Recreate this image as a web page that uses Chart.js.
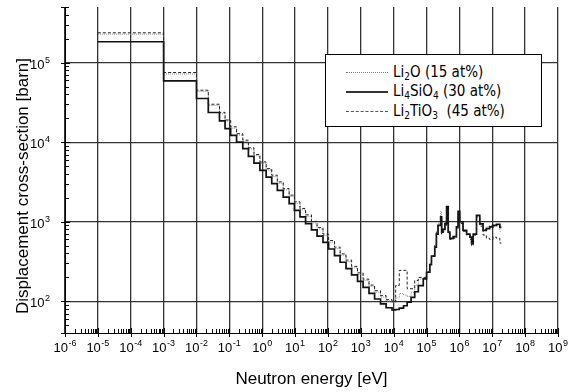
<!DOCTYPE html>
<html>
<head>
<meta charset="utf-8">
<script src="https://cdn.jsdelivr.net/npm/chart.js@4.4.1/dist/chart.umd.min.js"></script>
<style>
  body { margin: 0; background: #fff; }
  #wrap { position: relative; width: 575px; height: 392px; }
  #legend {
    position: absolute; left: 325px; top: 54px; width: 215px; height: 71px;
    border: 1px solid #000; background: #fff; color: #000;
    font-family: 'DejaVu Sans Condensed', 'DejaVu Sans', sans-serif; font-size: 15px;
  }
  .row { position: absolute; left: 0; height: 20px; line-height: 20px; white-space: nowrap; }
  .smp { position: absolute; left: 20px; top: 10px; width: 42px; height: 0; }
  .txt { position: absolute; left: 67px; top: 0; }
  sub { font-size: 10px; vertical-align: -3px; line-height: 0; }
</style>
</head>
<body>
<div id="wrap">
  <canvas id="dpaChart" width="575" height="392"></canvas>
  <div id="legend">
    <div class="row" style="top:7px"><span class="smp" style="border-top:1px dotted #777"></span><span class="txt">Li<sub>2</sub>O (15 at%)</span></div>
    <div class="row" style="top:26px"><span class="smp" style="border-top:2px solid #333"></span><span class="txt">Li<sub>4</sub>SiO<sub>4</sub> (30 at%)</span></div>
    <div class="row" style="top:46px"><span class="smp" style="border-top:1px dashed #555"></span><span class="txt">Li<sub>2</sub>TiO<sub>3</sub>&nbsp; (45 at%)</span></div>
  </div>
</div>
<script>
// group edges, log10 of neutron energy [eV]; last entry closes the last group
const edgeExp = [-5, -3, -2, -1.64, -1.30, -1.13, -0.96, -0.78, -0.59, -0.42,
    -0.25, -0.07, 0.12, 0.29, 0.46, 0.64, 0.82, 0.98, 1.15, 1.32,
    1.50, 1.67, 1.85, 2.02, 2.20, 2.37, 2.55, 2.72, 2.90, 3.07,
    3.25, 3.42, 3.60, 3.77, 3.95, 4.06, 4.17, 4.30, 4.41, 4.53,
    4.64, 4.75, 4.90, 5.00, 5.10, 5.15, 5.25, 5.30, 5.35, 5.43,
    5.46, 5.50, 5.56, 5.61, 5.66, 5.71, 5.81, 5.91, 5.96, 6.01,
    6.11, 6.22, 6.32, 6.37, 6.42, 6.52, 6.62, 6.72, 6.82, 6.92,
    7.02, 7.13, 7.23, 7.28];

const li2o = [228000, 72000, 43500, 29000, 22800, 18300, 15000, 12300, 10200, 8200,
    6750, 5450, 4480, 3700, 3050, 2510, 2080, 1710, 1410, 1170,
    970, 810, 670, 555, 460, 380, 316, 263, 218, 182,
    153, 130, 113, 101, 96, 110, 125, 120, 115, 130,
    160, 190, 195, 235, 300, 370, 520, 760, 950, 1350,
    760, 820, 980, 1500, 720, 610, 640, 850, 1320, 980,
    770, 690, 620, 520, 690, 1180, 920, 800, 860, 900,
    880, 900, 760];

const li4sio4 = [183000, 59000, 35400, 23600, 18500, 14800, 12200, 10000, 8300, 6630,
    5470, 4420, 3640, 3010, 2480, 2040, 1690, 1390, 1150, 950,
    790, 660, 550, 455, 375, 310, 258, 215, 178, 150,
    126, 107, 93, 83, 78, 79, 82, 88, 98, 112,
    132, 158, 192, 232, 290, 370, 480, 700, 900, 1150,
    740, 800, 950, 1550, 740, 620, 650, 860, 1350, 1000,
    780, 700, 640, 530, 700, 1200, 940, 780, 820, 860,
    900, 930, 850];

const li2tio3 = [237000, 75000, 45000, 30000, 23700, 19000, 15600, 12800, 10600, 8500,
    7000, 5650, 4650, 3850, 3170, 2610, 2160, 1780, 1470, 1220,
    1010, 845, 700, 580, 480, 395, 330, 275, 228, 190,
    160, 136, 118, 105, 100, 158, 245, 245, 144, 144,
    183, 200, 200, 235, 290, 370, 500, 740, 900, 1100,
    700, 760, 900, 1450, 700, 600, 620, 820, 1300, 950,
    760, 680, 600, 500, 680, 1150, 880, 680, 620, 600,
    640, 620, 540];

const xTickExps = [-6, -5, -4, -3, -2, -1, 0, 1, 2, 3, 4, 5, 6, 7, 8, 9];
const yTickExps = [2, 3, 4, 5];

function steps(vals) {
    return edgeExp.map((e, i) => ({ x: Math.pow(10, e), y: vals[Math.min(i, vals.length - 1)] }));
}

const labelFont = '13px "Liberation Sans", Arial, sans-serif';
const expFont = '9px "Liberation Sans", Arial, sans-serif';
const titleFont = '17px "Liberation Sans", Arial, sans-serif';

function drawPow(ctx, exp, x, y, align) {
    const base = '10', sup = String(exp);
    ctx.font = labelFont;
    const w1 = ctx.measureText(base).width;
    ctx.font = expFont;
    const w2 = ctx.measureText(sup).width;
    const w = w1 + w2 + 0.5;
    const x0 = align === 'right' ? x - w : x - w / 2;
    ctx.textAlign = 'left';
    ctx.font = labelFont;
    ctx.fillText(base, x0, y);
    ctx.font = expFont;
    ctx.fillText(sup, x0 + w1 + 0.5, y - 6);
}

const decor = {
    id: 'decor',
    afterDraw(chart) {
        const { ctx, chartArea: a, scales: { x, y } } = chart;
        ctx.save();
        ctx.strokeStyle = '#000';
        ctx.lineWidth = 1;
        ctx.beginPath();
        for (let n = xTickExps[0]; n < xTickExps[xTickExps.length - 1]; n++) {
            for (let m = 2; m <= 9; m++) {
                const px = Math.round(x.getPixelForValue(m * Math.pow(10, n))) + 0.5;
                ctx.moveTo(px, a.bottom);
                ctx.lineTo(px, a.bottom - 4);
            }
        }
        xTickExps.forEach(e => {
            const px = Math.round(x.getPixelForValue(Math.pow(10, e))) + 0.5;
            ctx.moveTo(px, a.bottom - 5);
            ctx.lineTo(px, a.bottom + 4);
        });
        for (let n = 1; n <= 5; n++) {
            for (let m = 2; m <= 9; m++) {
                const v = m * Math.pow(10, n);
                if (v < y.min || v > y.max) continue;
                const py = Math.round(y.getPixelForValue(v)) + 0.5;
                ctx.moveTo(a.left, py);
                ctx.lineTo(a.left + 4, py);
            }
        }
        yTickExps.forEach(e => {
            const py = Math.round(y.getPixelForValue(Math.pow(10, e))) + 0.5;
            ctx.moveTo(a.left - 4, py);
            ctx.lineTo(a.left + 5, py);
        });
        ctx.moveTo(a.left - 4, Math.round(a.bottom) + 0.5);
        ctx.lineTo(a.left, Math.round(a.bottom) + 0.5);
        ctx.moveTo(a.left - 4, Math.round(a.top) + 0.5);
        ctx.lineTo(a.left + 4, Math.round(a.top) + 0.5);
        ctx.stroke();

        ctx.fillStyle = '#000';
        ctx.textBaseline = 'alphabetic';
        xTickExps.forEach(e => drawPow(ctx, e, x.getPixelForValue(Math.pow(10, e)), a.bottom + 19, 'center'));
        yTickExps.forEach(e => drawPow(ctx, e, a.left - 15, y.getPixelForValue(Math.pow(10, e)) + 6, 'right'));

        ctx.font = titleFont;
        ctx.textAlign = 'center';
        ctx.fillText('Neutron energy [eV]', (a.left + a.right) / 2, 384);
        ctx.translate(27.5, 186);
        ctx.rotate(-Math.PI / 2);
        ctx.fillText('Displacement cross-section [barn]', 0, 0);
        ctx.restore();
    }
};

new Chart(document.getElementById('dpaChart'), {
    type: 'line',
    data: {
        datasets: [
            {
                label: 'Li2TiO3 (45 at%)',
                data: steps(li2tio3),
                borderColor: '#222',
                borderWidth: 1,
                borderDash: [3, 2],
                stepped: 'before',
                pointRadius: 0,
                fill: false
            },
            {
                label: 'Li4SiO4 (30 at%)',
                data: steps(li4sio4),
                borderColor: '#111',
                borderWidth: 1.7,
                stepped: 'before',
                pointRadius: 0,
                fill: false
            },
            {
                label: 'Li2O (15 at%)',
                data: steps(li2o),
                borderColor: '#888',
                borderWidth: 1,
                borderDash: [1, 1],
                stepped: 'before',
                pointRadius: 0,
                fill: false
            }
        ]
    },
    options: {
        responsive: false,
        animation: false,
        layout: { padding: { left: 0, right: 17, top: 7, bottom: 0 } },
        plugins: { legend: { display: false }, tooltip: { enabled: false } },
        scales: {
            x: {
                type: 'logarithmic',
                min: 1e-6,
                max: 1e9,
                afterBuildTicks: s => { s.ticks = xTickExps.map(e => ({ value: Math.pow(10, e) })); },
                afterFit: s => { s.height = 59; },
                ticks: { display: false },
                grid: { color: '#333', lineWidth: 1.3, drawTicks: false },
                border: { color: '#000', width: 1 }
            },
            y: {
                type: 'logarithmic',
                min: 40,
                max: 5e5,
                afterBuildTicks: s => { s.ticks = yTickExps.map(e => ({ value: Math.pow(10, e) })); },
                afterFit: s => { s.width = 65; },
                ticks: { display: false },
                grid: { color: '#333', lineWidth: 1.3, drawTicks: false },
                border: { color: '#000', width: 1 }
            }
        }
    },
    plugins: [decor]
});
</script>
</body>
</html>
